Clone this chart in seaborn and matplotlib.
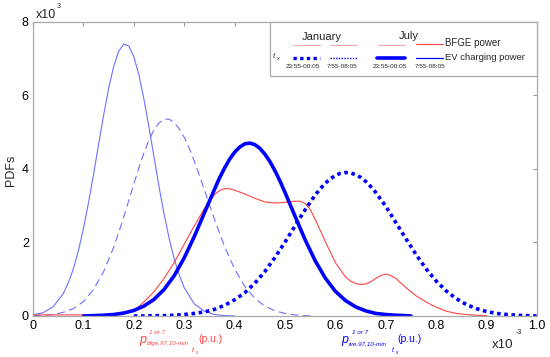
import numpy as np
import pandas as pd
import matplotlib
matplotlib.use("Agg")
import matplotlib.pyplot as plt
from matplotlib.lines import Line2D
from matplotlib.patches import Rectangle
import seaborn as sns

# ---------------- data ----------------
x_a = [0.00, 0.02, 0.04, 0.06, 0.07, 0.08, 0.09, 0.10, 0.11, 0.12, 0.13, 0.14,
       0.15, 0.16, 0.17, 0.18, 0.19, 0.20, 0.21, 0.22, 0.23, 0.24, 0.25, 0.26,
       0.27, 0.28, 0.29, 0.30, 0.32, 0.34, 0.36, 0.38, 0.40]
jan_night = [0.03, 0.09, 0.25, 0.61, 0.90, 1.28, 1.77, 2.37, 3.07, 3.84, 4.65, 5.45,
             6.18, 6.78, 7.20, 7.39, 7.34, 7.05, 6.56, 5.90, 5.14, 4.33, 3.52, 2.78,
             2.12, 1.56, 1.12, 0.77, 0.33, 0.13, 0.04, 0.01, 0.00]

x_b = [0.00, 0.02, 0.04, 0.06, 0.08, 0.10, 0.12, 0.14, 0.16, 0.17, 0.18, 0.19,
       0.20, 0.21, 0.22, 0.23, 0.24, 0.25, 0.26, 0.27, 0.28, 0.29, 0.30, 0.31,
       0.32, 0.33, 0.34, 0.35, 0.36, 0.38, 0.40, 0.42, 0.44, 0.46, 0.48, 0.50,
       0.52, 0.54, 0.56]
jan_morning = [0.01, 0.02, 0.04, 0.10, 0.20, 0.39, 0.72, 1.20, 1.87, 2.27, 2.69, 3.14,
               3.59, 4.02, 4.43, 4.78, 5.06, 5.25, 5.35, 5.35, 5.26, 5.09, 4.86, 4.56,
               4.21, 3.83, 3.43, 3.03, 2.63, 1.89, 1.28, 0.81, 0.48, 0.27, 0.14, 0.07,
               0.03, 0.01, 0.00]

x_c = [0.10, 0.12, 0.14, 0.16, 0.18, 0.20, 0.22, 0.24, 0.26, 0.28, 0.30, 0.32,
       0.34, 0.36, 0.37, 0.38, 0.39, 0.40, 0.41, 0.42, 0.43, 0.44, 0.45, 0.46,
       0.47, 0.48, 0.49, 0.50, 0.52, 0.54, 0.56, 0.58, 0.60, 0.62, 0.64, 0.66,
       0.68, 0.70, 0.72, 0.74, 0.75]
jul_night = [0.00, 0.01, 0.02, 0.04, 0.08, 0.15, 0.27, 0.45, 0.72, 1.09, 1.58, 2.16,
             2.80, 3.44, 3.75, 4.02, 4.26, 4.45, 4.59, 4.68, 4.70, 4.66, 4.56, 4.40,
             4.20, 3.95, 3.67, 3.36, 2.71, 2.07, 1.50, 1.03, 0.67, 0.42, 0.25, 0.14,
             0.07, 0.04, 0.02, 0.01, 0.00]

x_d = [0.20, 0.22, 0.24, 0.26, 0.28, 0.30, 0.32, 0.34, 0.36, 0.38, 0.40, 0.42,
       0.44, 0.46, 0.48, 0.50, 0.52, 0.54, 0.56, 0.57, 0.58, 0.59, 0.60, 0.61,
       0.62, 0.63, 0.64, 0.65, 0.66, 0.67, 0.68, 0.70, 0.72, 0.74, 0.76, 0.78,
       0.80, 0.82, 0.84, 0.86, 0.88, 0.90, 0.92, 0.94, 0.96, 0.98, 1.00]
jul_morning = [0.00, 0.00, 0.01, 0.01, 0.02, 0.04, 0.07, 0.11, 0.18, 0.29, 0.44, 0.63,
               0.89, 1.21, 1.59, 2.01, 2.45, 2.89, 3.29, 3.46, 3.61, 3.73, 3.82, 3.88,
               3.90, 3.89, 3.84, 3.77, 3.66, 3.52, 3.36, 2.98, 2.54, 2.10, 1.67, 1.28,
               0.95, 0.68, 0.47, 0.31, 0.20, 0.12, 0.07, 0.04, 0.02, 0.01, 0.00]

x_e = [0.00, 0.02, 0.04, 0.06, 0.08, 0.10, 0.12, 0.14, 0.16, 0.18, 0.20, 0.22,
       0.24, 0.26, 0.28, 0.30, 0.32, 0.34, 0.36, 0.37, 0.38, 0.39, 0.40, 0.42,
       0.44, 0.46, 0.48, 0.50, 0.52, 0.53, 0.54, 0.55, 0.56, 0.57, 0.58, 0.60,
       0.62, 0.63, 0.64, 0.65, 0.66, 0.67, 0.68, 0.69, 0.70, 0.71, 0.72, 0.74,
       0.76, 0.78, 0.80, 0.82, 0.84, 0.86, 0.88, 0.90]
bfge = [0.03, 0.03, 0.03, 0.03, 0.03, 0.03, 0.03, 0.04, 0.06, 0.09, 0.14, 0.38,
        0.66, 1.02, 1.45, 1.95, 2.45, 2.92, 3.30, 3.41, 3.46, 3.46, 3.42, 3.32,
        3.20, 3.10, 3.07, 3.09, 3.12, 3.12, 3.06, 2.90, 2.62, 2.33, 2.02, 1.45,
        1.06, 0.95, 0.88, 0.86, 0.87, 0.93, 1.02, 1.10, 1.14, 1.10, 1.02, 0.77,
        0.55, 0.38, 0.24, 0.13, 0.07, 0.04, 0.02, 0.01]

x_ticks = [0.0, 0.1, 0.2, 0.3, 0.4, 0.5, 0.6, 0.7, 0.8, 0.9, 1.0]
x_ticklabels = ["0", "0.1", "0.2", "0.3", "0.4", "0.5", "0.6", "0.7", "0.8", "0.9", "1.0"]
y_ticks = [0, 2, 4, 6, 8]
time_labels = ["23:55-00:05", "7:55-08:05", "23:55-00:05", "7:55-08:05"]

# ---------------- style ----------------
sns.set_style("white")
plt.rcParams["font.family"] = ["Liberation Sans", "DejaVu Sans"]
plt.rcParams["lines.solid_joinstyle"] = "round"
plt.rcParams["lines.dash_joinstyle"] = "round"

W, H = 550, 357
fig = plt.figure(figsize=(W / 100, H / 100), dpi=100)
ax = fig.add_axes([33 / W, 1 - 316 / H, (537 - 33) / W, (316 - 21.7) / H])

LIGHT = "#6f6fff"
BLUE = "#0000ff"
RED = "#ff4444"

sns.lineplot(x=x_a, y=jan_night, ax=ax, color=LIGHT, lw=0.8)
sns.lineplot(x=x_b, y=jan_morning, ax=ax, color=LIGHT, lw=0.8, linestyle=(0, (7, 4)))
sns.lineplot(x=x_e, y=bfge, ax=ax, color=RED, lw=0.8)
sns.lineplot(x=x_d, y=jul_morning, ax=ax, color=BLUE, lw=2.6,
             linestyle=(0, (1, 1)), dash_capstyle="butt")
sns.lineplot(x=x_c, y=jul_night, ax=ax, color=BLUE, lw=2.6)

ax.set_xlim(0, 1)
ax.set_ylim(0, 8)
ax.set_xticks(x_ticks)
ax.set_xticklabels(x_ticklabels)
ax.set_yticks(y_ticks)
ax.tick_params(direction="in", top=True, right=True, length=3, width=0.8,
               color="#999999", labelsize=9, labelcolor="black", pad=3)
for s in ax.spines.values():
    s.set_color("#aaaaaa")
    s.set_linewidth(0.9)
ax.set_xlabel("")
ax.set_ylabel("")


def fx(px):
    return px / W


def fy(py):
    return 1 - py / H


fig.text(fx(11), fy(170), "PDFs", rotation=90, ha="center", va="center", fontsize=9)
fig.text(fx(36), fy(15), "x10", ha="left", va="center", fontsize=9)
fig.text(fx(57), fy(7), "3", ha="left", va="center", fontsize=5)
fig.text(fx(492), fy(345), "x10", ha="left", va="center", fontsize=9.5)
fig.text(fx(516), fy(333), "-3", ha="left", va="center", fontsize=5)

# x-axis annotations
fig.text(fx(139), fy(340), "p", ha="left", va="center", fontsize=9, color=RED, style="italic")
fig.text(fx(149), fy(332), "1 or 7", ha="left", va="center", fontsize=4.5, color=RED, style="italic")
fig.text(fx(147), fy(344), "bfge,97,10-min", ha="left", va="center", fontsize=4.5, color=RED, style="italic")
fig.text(fx(192), fy(351), "t", ha="left", va="center", fontsize=5, color=RED, style="italic")
fig.text(fx(195), fy(353), "x", ha="left", va="center", fontsize=3.5, color=RED, style="italic")
fig.text(fx(198), fy(339), "(p.u.)", ha="left", va="center", fontsize=7.5, color=RED)

fig.text(fx(341), fy(340), "p", ha="left", va="center", fontsize=9, color=BLUE, style="italic")
fig.text(fx(352), fy(332), "1 or 7", ha="left", va="center", fontsize=4.5, color=BLUE, style="italic")
fig.text(fx(349), fy(344), "tve,97,10-min", ha="left", va="center", fontsize=4.5, color=BLUE, style="italic")
fig.text(fx(392), fy(351), "t", ha="left", va="center", fontsize=5, color=BLUE, style="italic")
fig.text(fx(395), fy(353), "x", ha="left", va="center", fontsize=3.5, color=BLUE, style="italic")
fig.text(fx(397), fy(339), "(p.u.)", ha="left", va="center", fontsize=7.5, color=BLUE)

# ---------------- custom legend ----------------
fig.add_artist(Rectangle((fx(270), fy(76)), (537 - 270) / W, (76 - 21.7) / H,
                         transform=fig.transFigure, facecolor="white",
                         edgecolor="#aaaaaa", lw=0.9, zorder=5))


def seg(x0, x1, y, **kw):
    fig.add_artist(Line2D([fx(x0), fx(x1)], [fy(y), fy(y)], transform=fig.transFigure,
                          zorder=6, **kw))


fig.text(fx(322), fy(37), "January", ha="center", va="center", fontsize=8, zorder=7)
fig.text(fx(409), fy(36), "July", ha="center", va="center", fontsize=8, zorder=7)
for a, b in [(293, 320), (330, 357), (378, 405)]:
    seg(a, b, 45, color="#ffa8a8", lw=0.7)
seg(416, 443, 43.5, color=RED, lw=0.8)
seg(416, 443, 57.5, color=BLUE, lw=0.9)
seg(293, 320, 58, color=BLUE, lw=2.4, linestyle=(0, (1, 1)), dash_capstyle="butt")
seg(330, 357, 58, color=BLUE, lw=1.0, linestyle=(0, (1, 1)), dash_capstyle="butt")
seg(377, 405, 58, color=BLUE, lw=2.6)
for cx, lab in zip([303, 342, 390, 430], time_labels):
    fig.text(fx(cx), fy(67), lab, ha="center", va="center", fontsize=4.6, zorder=7)
fig.text(fx(445), fy(43.5), "BFGE power", ha="left", va="center", fontsize=7, zorder=7)
fig.text(fx(445), fy(57), "EV charging power", ha="left", va="center", fontsize=6.8, zorder=7)
fig.text(fx(273), fy(56), "t", ha="left", va="center", fontsize=5.5, style="italic", zorder=7)
fig.text(fx(276), fy(58), "x", ha="left", va="center", fontsize=4, style="italic", zorder=7)

fig.savefig("out.png", dpi=100)
